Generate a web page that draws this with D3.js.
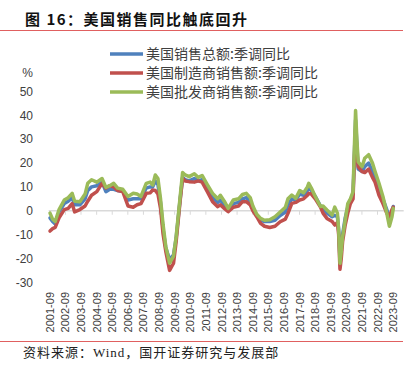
<!DOCTYPE html>
<html>
<head>
<meta charset="utf-8">
<script src="https://cdn.jsdelivr.net/npm/d3@7"></script>
<style>
  html, body { margin: 0; padding: 0; background: #ffffff; }
  svg { display: block; }
</style>
</head>
<body>
<div id="chart"></div>
<script>
// données (mois, puis une valeur par série en %)
const months = [
  "2001-09","2001-11","2002-01","2002-04","2002-08","2002-11","2003-02","2003-04","2003-08","2003-12",
  "2004-02","2004-05","2004-09","2005-01","2005-04","2005-07","2005-10","2006-01","2006-05","2006-09",
  "2007-01","2007-04","2007-07","2007-11","2008-02","2008-04","2008-06","2008-08","2008-10","2008-12",
  "2009-02","2009-05","2009-08","2009-10","2010-01","2010-03","2010-05","2010-08","2010-12","2011-03",
  "2011-06","2011-10","2012-02","2012-06","2012-08","2012-11","2013-02","2013-06","2013-10","2014-01",
  "2014-04","2014-07","2014-09","2014-12","2015-03","2015-06","2015-10","2016-02","2016-06","2016-10",
  "2016-12","2017-03","2017-06","2017-09","2017-12","2018-03","2018-04","2018-06","2018-09","2019-01",
  "2019-03","2019-06","2019-10","2019-12","2020-02","2020-03","2020-04","2020-05","2020-06","2020-08",
  "2020-10","2020-12","2021-02","2021-03","2021-04","2021-05","2021-06","2021-09","2021-11","2022-02",
  "2022-05","2022-07","2022-10","2023-01","2023-04","2023-06","2023-08","2023-09"
];

// 美国销售总额:季调同比
const totalSales = [
  -3.0,-4.5,-5.5,-0.5,3.0,4.0,5.5,2.5,2.5,5.0,
  8.5,10.0,10.5,12.0,8.0,9.0,9.0,8.5,8.0,4.5,
  5.0,5.0,5.0,9.5,10.0,10.0,12.5,11.0,3.5,-8.0,
  -15.5,-20.5,-18.5,-11.5,4.5,14.0,13.0,12.5,13.5,12.5,
  13.0,9.5,5.5,3.5,4.5,2.5,0.5,3.0,3.5,5.0,
  5.5,4.0,1.0,-2.0,-4.0,-4.5,-4.5,-4.0,-2.0,-0.5,
  2.5,5.0,4.5,7.0,6.5,8.5,9.5,8.5,6.0,2.0,
  1.0,-1.0,-2.5,-2.0,-2.5,-8.0,-20.0,-16.0,-10.0,-3.0,
  1.5,4.5,7.0,22.0,38.0,28.0,17.5,16.5,18.5,20.0,
  16.5,14.0,9.5,5.0,0.5,-3.0,-0.5,1.8
];

// 美国制造商销售额:季调同比
const mfgSales = [
  -8.5,-7.5,-7.0,-3.0,0.5,1.0,3.0,-0.5,0.5,2.0,
  4.0,6.5,8.0,11.5,9.5,10.5,10.0,8.5,8.0,2.0,
  1.5,2.5,3.0,7.3,7.5,8.7,8.5,7.0,1.0,-10.0,
  -17.0,-25.0,-22.0,-13.0,3.8,13.6,12.5,12.2,12.0,12.5,
  12.0,8.0,3.8,1.7,2.5,1.0,-0.4,1.5,2.0,3.8,
  3.8,2.5,0.0,-2.5,-5.3,-6.5,-7.0,-6.5,-4.6,-3.5,
  -1.1,3.1,3.5,4.5,5.0,6.5,7.3,7.0,5.0,1.5,
  -1.0,-3.2,-4.5,-6.0,-5.0,-10.0,-24.5,-20.0,-13.0,-6.0,
  -1.0,3.0,5.0,20.0,34.0,25.0,18.5,16.4,16.0,17.5,
  14.0,12.0,6.5,3.0,-1.0,-2.5,0.5,1.5
];

// 美国批发商销售额:季调同比
const wholesaleSales = [
  -1.0,-3.5,-4.5,0.5,4.5,5.5,7.3,4.0,3.8,7.0,
  11.5,13.0,12.0,13.5,9.8,10.5,11.5,9.5,9.0,6.0,
  7.3,7.0,6.0,11.5,12.0,10.8,15.0,13.5,5.0,-6.0,
  -15.0,-22.0,-19.0,-11.0,5.5,16.0,15.0,14.3,15.5,14.0,
  14.8,11.0,7.3,5.0,6.5,4.0,1.0,4.5,5.0,6.8,
  7.3,5.5,2.0,-1.5,-3.2,-4.0,-3.8,-2.5,-0.5,1.5,
  5.0,6.6,5.2,8.5,7.5,10.0,11.5,9.5,6.0,1.8,
  2.0,0.3,-1.8,1.5,-1.0,-8.0,-22.0,-17.0,-11.0,-4.0,
  3.0,5.0,8.0,25.0,42.0,30.0,20.5,18.5,22.0,23.5,
  20.0,16.5,11.5,6.0,-1.0,-6.5,-2.5,1.0
];

const seriesNames = ["美国销售总额:季调同比", "美国制造商销售额:季调同比", "美国批发商销售额:季调同比"];
const seriesColors = ["#4f81bd", "#c0504d", "#9bbb59"];
const yTicks = [50, 40, 30, 20, 10, 0, -10, -20, -30];
const xLabelYears = d3.range(2001, 2024);

//---------------------------------------------------------------------------------------

const width = 411;
const height = 371;
const parseMonth = d3.timeParse("%Y-%m");
const ruleColor = "#e06060";
const textColor = "#404040";

const svg = d3.select("#chart")
  .append("svg")
  .attr("width", width)
  .attr("height", height)
  .attr("viewBox", [0, 0, width, height]);

// titre + filets rouges
svg.append("text")
  .attr("x", 25)
  .attr("y", 25)
  .attr("font-family", "'Noto Sans CJK SC', sans-serif")
  .attr("font-weight", "bold")
  .attr("font-size", "15px")
  .attr("letter-spacing", "1.5px")
  .attr("fill", "#111")
  .text("图 16：美国销售同比触底回升");

svg.append("line")
  .attr("x1", 0).attr("x2", 403)
  .attr("y1", 30.5).attr("y2", 30.5)
  .attr("stroke", ruleColor)
  .attr("stroke-width", 1);

svg.append("line")
  .attr("x1", 0).attr("x2", 403)
  .attr("y1", 341.5).attr("y2", 341.5)
  .attr("stroke", ruleColor)
  .attr("stroke-width", 1);

svg.append("text")
  .attr("x", 23)
  .attr("y", 357)
  .attr("font-family", "'Liberation Serif', 'Noto Sans CJK SC', serif")
  .attr("font-size", "13px")
  .attr("letter-spacing", "1px")
  .attr("fill", "#222")
  .text("资料来源：Wind，国开证券研究与发展部");

//---------------------------------------------------------------------------------------

// échelles
const x = d3.scaleTime()
  .domain([parseMonth("2001-09"), parseMonth("2023-09")])
  .range([50, 393.3]);

const y = d3.scaleLinear()
  .domain([-30, 50])
  .range([282.3, 91.5]);

// axe Y : étiquettes seulement
svg.append("g")
  .selectAll("text")
  .data(yTicks)
  .join("text")
  .attr("x", 33)
  .attr("y", d => y(d))
  .attr("dy", "0.35em")
  .attr("text-anchor", "end")
  .attr("font-family", "'Liberation Sans', sans-serif")
  .attr("font-size", "12px")
  .attr("fill", textColor)
  .text(d => d);

svg.append("text")
  .attr("x", 33)
  .attr("y", 72.7)
  .attr("dy", "0.35em")
  .attr("text-anchor", "end")
  .attr("font-family", "'Liberation Sans', sans-serif")
  .attr("font-size", "12px")
  .attr("fill", textColor)
  .text("%");

// ligne du zéro avec petites graduations annuelles
const axisStart = d3.timeMonth.offset(parseMonth("2001-09"), -1);
const axisEnd = parseMonth("2024-05");
const zeroAxis = d3.axisBottom(x)
  .tickValues(xLabelYears.map(yr => new Date(yr, 7, 16)))
  .tickSizeInner(4)
  .tickSizeOuter(0)
  .tickFormat("");

const gZero = svg.append("g")
  .attr("transform", `translate(0, ${y(0)})`)
  .call(zeroAxis);
gZero.select(".domain").remove();
gZero.selectAll(".tick line").attr("stroke", "#d9d9d9").attr("stroke-width", 1);
gZero.append("line")
  .attr("x1", x(axisStart)).attr("x2", x(axisEnd))
  .attr("stroke", "#d9d9d9")
  .attr("stroke-width", 1.5);

// étiquettes de l'axe X, verticales
svg.append("g")
  .selectAll("text")
  .data(xLabelYears)
  .join("text")
  .attr("transform", d => `translate(${x(new Date(d, 8, 1))}, 292) rotate(-90)`)
  .attr("dy", "0.35em")
  .attr("text-anchor", "end")
  .attr("font-family", "'Liberation Sans', sans-serif")
  .attr("font-size", "11px")
  .attr("fill", textColor)
  .text(d => `${d}-09`);

//---------------------------------------------------------------------------------------

// courbes
const dates = months.map(parseMonth);
const allSeries = [totalSales, mfgSales, wholesaleSales];

const line = d3.line()
  .x((d, i) => x(dates[i]))
  .y(d => y(d));

svg.append("g")
  .selectAll("path")
  .data(allSeries)
  .join("path")
  .attr("d", d => line(d))
  .attr("fill", "none")
  .attr("stroke", (d, i) => seriesColors[i])
  .attr("stroke-width", 3.5)
  .attr("stroke-linejoin", "round")
  .attr("stroke-linecap", "round");

// légende
const legend = svg.append("g")
  .selectAll("g")
  .data(seriesNames)
  .join("g")
  .attr("transform", (d, i) => `translate(110, ${54 + i * 19})`);

legend.append("line")
  .attr("x1", 0).attr("x2", 33)
  .attr("stroke", (d, i) => seriesColors[i])
  .attr("stroke-width", 3.5);

legend.append("text")
  .attr("x", 36)
  .attr("dy", "0.35em")
  .attr("font-family", "'Noto Sans CJK SC', sans-serif")
  .attr("font-size", "14px")
  .attr("fill", textColor)
  .text(d => d);
</script>
</body>
</html>
